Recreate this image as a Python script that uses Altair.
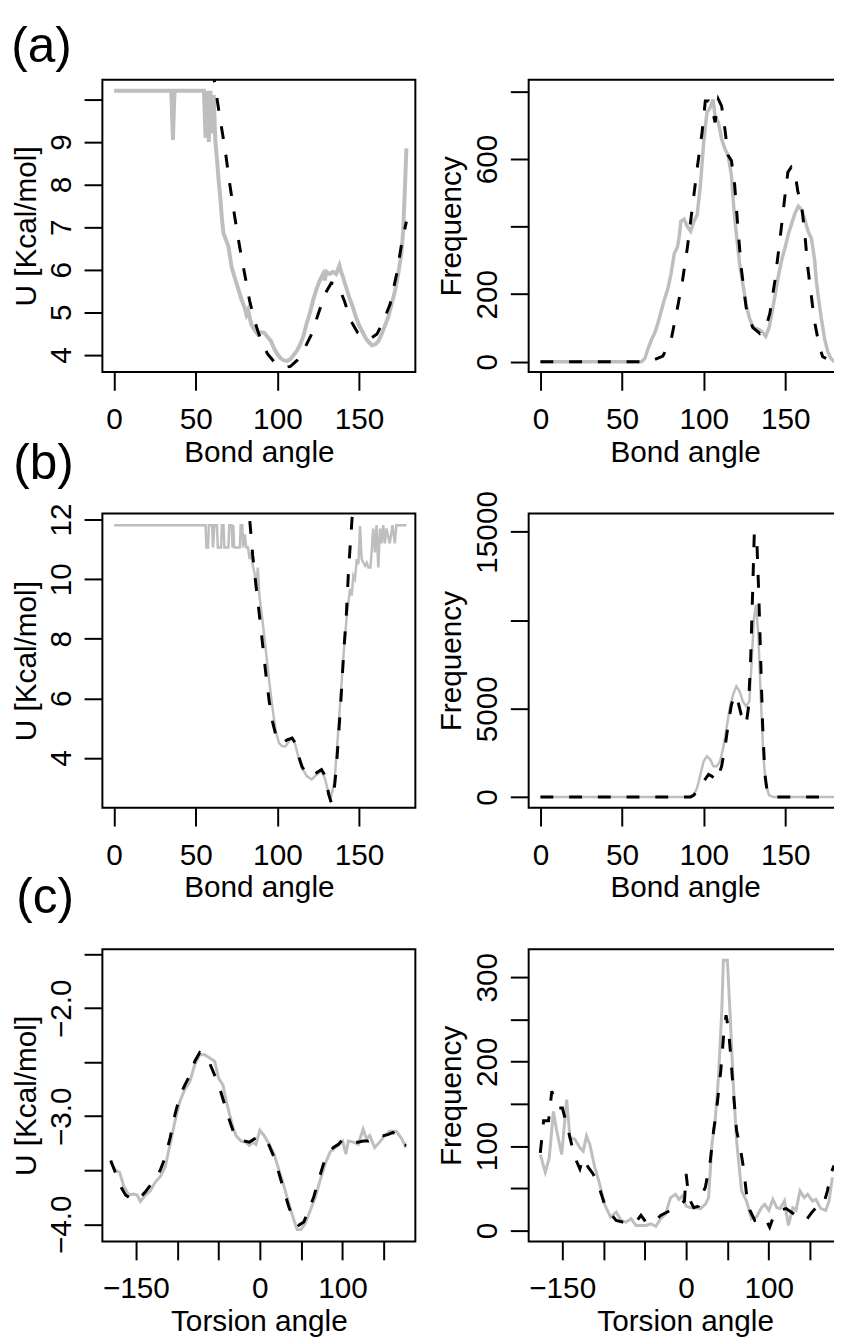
import altair as alt
import pandas as pd

FONT = "Liberation Sans"
GRAY = "#bebebe"
FS = 30

# ---------------- data ----------------
panel_labels = ["(a)", "(b)", "(c)"]

bond_ticks = [0, 50, 100, 150]
torsion_ticks = [-150, -100, -50, 0, 50, 100, 150]
torsion_shown = [-150, 0, 100]

# (a) bond angle: potential (left) and frequency (right)
a_u_gray = [(0, 10.2), (35, 10.2), (36, 9.05), (37, 10.2), (55, 10.2), (56, 9.1), (57, 10.2), (58, 9.0),
            (59, 10.2), (60, 9.2), (61, 10.1), (62, 9.0), (63, 8.6), (64, 8.1), (65, 7.7), (66, 7.2),
            (67, 6.85), (68, 6.75), (70, 6.55), (72, 6.05), (74, 5.8), (76, 5.55), (78, 5.3), (80, 5.1),
            (81, 4.95), (82, 5.05), (84, 4.72), (86, 4.58), (88, 4.48), (90, 4.53), (92, 4.52), (94, 4.42),
            (96, 4.33), (98, 4.15), (100, 4.02), (102, 3.92), (104, 3.87), (106, 3.86), (108, 3.9),
            (110, 4.0), (112, 4.1), (114, 4.25), (116, 4.45), (118, 4.75), (120, 5.0), (122, 5.3),
            (124, 5.55), (126, 5.75), (128, 5.9), (129, 5.75), (130, 5.95), (132, 5.9), (134, 5.95),
            (136, 5.9), (138, 6.1), (139, 5.95), (140, 5.85), (142, 5.6), (144, 5.35), (146, 5.15),
            (148, 4.9), (150, 4.7), (152, 4.55), (154, 4.4), (156, 4.3), (158, 4.22), (160, 4.25),
            (162, 4.33), (164, 4.5), (166, 4.7), (168, 4.9), (170, 5.2), (172, 5.5), (174, 5.9),
            (176, 6.4), (177, 6.9), (178, 7.8), (179, 8.85)]
a_u_dash = [(60.3, 10.7), (61.8, 10.32), (64.9, 9.54), (67.9, 8.84), (70.9, 7.99), (74, 7.21), (77, 6.51),
            (80, 5.89), (83, 5.27), (86, 4.8), (90, 4.33), (94, 4.02), (99, 3.79), (104, 3.71), (108, 3.73),
            (112, 3.87), (116, 4.1), (121, 4.49), (125, 4.96), (129, 5.42), (133, 5.69), (137, 5.65),
            (141, 5.27), (145, 4.8), (149, 4.53), (153, 4.41), (157, 4.38), (161, 4.49), (165, 4.8),
            (169, 5.19), (173, 5.89), (176, 6.59), (179, 7.13)]
a_f_gray = [(0, 0), (62, 0), (64, 10), (66, 40), (68, 65), (70, 85), (72, 115), (74, 150), (76, 185),
            (78, 215), (80, 260), (82, 320), (84, 340), (85, 370), (86, 415), (88, 422), (90, 400),
            (92, 386), (94, 415), (96, 434), (98, 522), (100, 649), (102, 737), (104, 752), (105.7, 776),
            (107, 727), (109, 708), (111, 659), (113, 630), (115, 610), (117, 551), (118.5, 454),
            (120, 380), (122, 290), (124, 230), (126, 170), (128, 130), (130, 105), (132, 98), (134, 95),
            (136, 88), (138, 75), (140, 100), (142, 150), (144, 205), (146, 260), (148, 305), (150, 340),
            (152, 380), (154, 410), (156, 440), (158, 460), (160, 450), (162, 420), (164, 385), (166, 365),
            (168, 300), (169, 240), (170, 200), (172, 130), (174, 70), (176, 30), (178, 10), (180, 0)]
a_f_dash = [(0, 0), (62, 0), (65, 3), (70, 7), (75, 17), (80, 63), (84, 161), (87, 239), (90, 337),
            (93, 454), (96, 571), (99, 678), (101, 771), (103, 771), (105, 752), (107, 708), (109, 776),
            (111, 756), (113, 688), (115, 610), (117, 595), (119, 522), (121, 395), (123, 278), (126, 161),
            (130, 102), (134.5, 83), (137.5, 93), (140.5, 142), (143.6, 239), (146.6, 356), (149.6, 483),
            (151.6, 561), (153.7, 576), (155.7, 566), (157.7, 503), (159.7, 473), (161.8, 386),
            (163.8, 278), (165.8, 200), (167.8, 122), (170.9, 44), (172.9, 15), (175, 10)]

# (b) bond angle
b_u_gray = [(0, 11.81), (56, 11.81), (56.5, 11.06), (57.5, 11.06), (58, 11.81), (60, 11.81), (60.5, 11.06),
            (61.5, 11.81), (63, 11.81), (63.5, 11.06), (65.5, 11.06), (66, 11.81), (67, 11.81), (67.5, 11.06),
            (70, 11.06), (70.5, 11.81), (72, 11.81), (72.5, 11.06), (73, 11.81), (73.5, 11.06), (77, 11.06),
            (77.5, 11.81), (78.5, 11.81), (79, 11.06), (80, 11.5), (81, 11.06), (82, 11.06), (83, 10.67),
            (84, 10.9), (85, 10.44), (86, 10.2), (87, 9.67), (88, 10.39), (89, 9.44), (91, 8.56), (93, 7.56),
            (95, 6.56), (97, 5.67), (99, 4.89), (101, 4.5), (103, 4.39), (105, 4.39), (107, 4.56),
            (109, 4.67), (111, 4.44), (113, 4.0), (115, 3.67), (118, 3.39), (121, 3.28), (124, 3.44),
            (127, 3.56), (129, 3.33), (131, 2.89), (133, 2.72), (135, 3.22), (136.5, 4.33), (138.5, 5.89),
            (140.5, 7.44), (142.5, 8.78), (144.5, 9.67), (145.5, 9.45), (146.5, 10.11), (147.5, 10.0),
            (148.6, 10.67), (149.6, 10.5), (150.6, 11.78), (151.6, 10.67), (152.7, 10.55), (153.7, 10.45),
            (154.7, 10.55), (155.7, 10.39), (157, 10.39), (158.7, 11.7), (159.7, 10.9), (160.7, 11.81),
            (161.8, 10.39), (162.8, 11.7), (163.8, 11.2), (164.8, 11.81), (165.8, 11.2), (166.8, 11.7),
            (168.8, 11.2), (170.5, 11.81), (171.9, 11.2), (172.9, 11.81), (179, 11.81)]
b_u_dash = [(83.1, 11.95), (84.9, 10.78), (86.9, 9.78), (89, 8.78), (91, 7.78), (93, 6.78), (95, 5.89),
            (97, 5.22), (99, 4.78), (101, 4.56), (103, 4.5), (106, 4.61), (109, 4.67), (111, 4.5),
            (113, 4.06), (115, 3.72), (118, 3.44), (121, 3.39), (124, 3.5), (127, 3.61), (129.4, 3.39),
            (131.4, 2.78), (133, 2.5), (134.5, 2.78), (136.1, 3.67), (137.5, 4.78), (139.1, 6.11),
            (140.5, 7.44), (142.2, 8.78), (143.6, 10.33), (145, 11.44), (145.8, 12.1)]
b_f_gray = [(0, 0), (90, 0), (92, 40), (94, 150), (96, 526), (98, 1278), (100, 2030), (102, 2312),
            (104, 2124), (106, 1748), (108, 1748), (110, 2030), (112, 2782), (114, 3910), (116, 5038),
            (118, 5790), (120, 6260), (122, 5978), (124, 5414), (126, 5132), (128, 5414), (129.4, 7670),
            (130.8, 10114), (132, 10866), (133.5, 9174), (134.9, 5790), (136.5, 2406), (138.1, 714),
            (140, 113), (142.5, 0), (180, 0)]
b_f_dash = [(0, 0), (92, 0), (94, 113), (96, 376), (99, 752), (103, 1278), (105, 1184), (108, 902),
            (111, 1748), (113, 2782), (115, 4098), (117, 5226), (119, 5790), (121, 5414), (123, 4662),
            (126, 4098), (127.4, 5038), (128.8, 7858), (130, 11618), (131, 14908), (132.4, 14908),
            (133.7, 11618), (134.9, 7858), (136.1, 4098), (137.5, 1278), (138.9, 338), (140.9, 38),
            (143, 0), (175, 0)]

# (c) torsion angle
c_u_gray = [(-180.5, -3.43), (-174.5, -3.5), (-169.7, -3.52), (-164.6, -3.65), (-158.6, -3.73),
            (-152.6, -3.72), (-148.6, -3.73), (-144.6, -3.79), (-138.6, -3.73), (-132.6, -3.69),
            (-126.6, -3.61), (-120.6, -3.56), (-114.6, -3.47), (-108.6, -3.26), (-102.6, -3.04),
            (-96.7, -2.86), (-90.7, -2.75), (-84.7, -2.68), (-78.7, -2.52), (-72.7, -2.43), (-66.7, -2.43),
            (-60.7, -2.46), (-54.7, -2.49), (-49.9, -2.65), (-44.7, -2.71), (-40.7, -2.86), (-36.7, -2.98),
            (-32.7, -3.10), (-28.8, -3.18), (-22.8, -3.23), (-16.8, -3.24), (-12.8, -3.27), (-8.8, -3.24),
            (-4.8, -3.26), (0, -3.13), (5.2, -3.18), (11.2, -3.26), (17.2, -3.35), (23.2, -3.5),
            (29.2, -3.65), (35.1, -3.81), (41.1, -3.96), (45.1, -4.05), (49.9, -4.05), (55.1, -3.99),
            (61.1, -3.87), (67.1, -3.75), (73.1, -3.59), (79.1, -3.44), (85.1, -3.33), (91.1, -3.29),
            (95.1, -3.27), (100.2, -3.23), (104.2, -3.35), (107, -3.23), (113, -3.24), (119, -3.26),
            (125, -3.12), (129, -3.21), (133, -3.18), (139, -3.29), (145, -3.24), (151, -3.18),
            (157, -3.14), (165, -3.14), (171, -3.2), (177, -3.29)]
c_u_dash = [(-180.5, -3.41), (-174.5, -3.53), (-168.5, -3.65), (-162.6, -3.73), (-156.6, -3.76),
            (-150.6, -3.78), (-144.6, -3.75), (-138.6, -3.70), (-132.6, -3.64), (-126.6, -3.58),
            (-120.6, -3.5), (-114.6, -3.38), (-108.6, -3.2), (-102.6, -2.98), (-96.7, -2.81),
            (-90.7, -2.71), (-84.7, -2.62), (-78.7, -2.49), (-72.7, -2.41), (-66.7, -2.43), (-60.7, -2.51),
            (-54.7, -2.62), (-48.7, -2.74), (-42.7, -2.89), (-36.7, -3.04), (-30.8, -3.17), (-24.8, -3.21),
            (-18.8, -3.23), (-12.8, -3.24), (-6.8, -3.21), (0, -3.19), (5.2, -3.21), (11.2, -3.27),
            (17.2, -3.38), (23.2, -3.53), (29.2, -3.69), (35.1, -3.84), (41.1, -3.96), (47.1, -4.01),
            (53.1, -3.98), (59.1, -3.87), (65.1, -3.75), (71.1, -3.59), (77.1, -3.44), (83.1, -3.33),
            (89.1, -3.29), (95.1, -3.26), (101.1, -3.21), (107, -3.22), (113, -3.24), (119, -3.24),
            (125, -3.23), (131, -3.23), (137, -3.21), (143, -3.17), (149, -3.18), (155, -3.17),
            (161, -3.15), (167, -3.18), (173, -3.26), (177, -3.27)]
c_f_gray = [(-176.5, 90), (-170.5, 69), (-165.7, 86), (-160.6, 141), (-156.6, 118), (-150.6, 90),
            (-144.6, 155), (-140.6, 110), (-134.6, 108), (-128.6, 98), (-124.6, 94), (-120.6, 112),
            (-116.6, 102), (-110.6, 75), (-104.6, 55), (-98.7, 31), (-91.5, 16), (-84.7, 22), (-78.7, 12),
            (-72.7, 10), (-66.7, 14), (-60.7, 6), (-54.7, 6), (-48.7, 6), (-42.7, 8), (-36.7, 5),
            (-30.8, 14), (-24.8, 20), (-18.8, 39), (-12.8, 43), (-8.8, 37), (-4.8, 41), (0, 29), (5.2, 27),
            (11.2, 27), (17.2, 26), (23.2, 31), (27.2, 39), (31.2, 102), (35.1, 130), (39.1, 181),
            (43.1, 259), (45.1, 320), (49.9, 320), (53.1, 259), (57.1, 173), (61.1, 106), (67.1, 47),
            (73.1, 35), (79.1, 14), (85.1, 16), (91.1, 27), (95.1, 31), (100.2, 24), (105, 37), (109.8, 27),
            (113.8, 26), (119, 35), (123.8, 6), (129, 27), (133, 24), (137.8, 47), (143, 39), (147, 43),
            (153, 35), (157, 37), (163, 26), (169, 24), (173, 35), (177, 63)]
c_f_dash = [(-176.5, 92), (-172.5, 130), (-166.5, 130), (-162.6, 165), (-158.6, 151), (-154.6, 145),
            (-149.8, 145), (-144.6, 126), (-138.6, 102), (-132.6, 82), (-128.6, 73), (-124.6, 86),
            (-118.6, 75), (-112.6, 67), (-106.6, 55), (-98.7, 31), (-91.5, 20), (-84.7, 12), (-76.7, 10),
            (-68.7, 9), (-60.7, 10), (-54.7, 18), (-48.7, 10), (-42.7, 8), (-36.7, 12), (-30.8, 18),
            (-22.8, 22), (-14.8, 26), (-6.8, 31), (-2, 35), (0, 67), (3.2, 39), (9.2, 27), (15.2, 29),
            (19.2, 43), (23.2, 51), (29.2, 82), (33.2, 118), (37.1, 145), (41.9, 189), (45.1, 228),
            (48.3, 255), (51.1, 240), (53.9, 208), (57.1, 165), (61.1, 118), (65.9, 96), (69.9, 71),
            (73.1, 43), (77.1, 24), (83.1, 12), (89.1, 14), (95.1, 16), (101.1, 4), (107, 20), (113, 24),
            (121, 26), (127, 22), (133, 18), (139, 16), (145, 12), (151, 20), (157, 27), (163, 27),
            (167, 33), (171, 47), (175, 67), (179, 77)]


# ---------------- helpers ----------------
def show_expr(shown):
    vals = ",".join(str(v) for v in shown)
    return "indexof([" + vals + "], datum.value) >= 0 ? datum.label : ''"


def panel(gray, dash, xdom, ydom, xvals, xshow, xtitle, yvals, yshow, ytitle, h, gw, ytx,
          yfmt="d", label=None, lpos=None):
    xaxis = alt.Axis(values=xvals, labelExpr=show_expr(xshow), title=xtitle, grid=False, domain=False,
                     format="d", tickSize=18.5, tickWidth=2, tickColor="black",
                     labelFont=FONT, labelFontSize=FS, labelColor="black",
                     labelBaseline="alphabetic", labelAlign="center", labelPadding=38.5,
                     labelOverlap=False, labelFlush=False,
                     titleFont=FONT, titleFontSize=FS, titleFontWeight="normal", titleColor="black",
                     titleBaseline="alphabetic", titleY=90)
    yaxis = alt.Axis(values=yvals, labelExpr=show_expr(yshow), title=ytitle, grid=False, domain=False,
                     format=yfmt, tickSize=18.5, tickWidth=2, tickColor="black",
                     labelFont=FONT, labelFontSize=FS, labelColor="black", labelAngle=270,
                     labelBaseline="alphabetic", labelAlign="center", labelPadding=13.5,
                     labelOverlap=False, labelFlush=False,
                     titleFont=FONT, titleFontSize=FS, titleFontWeight="normal", titleColor="black",
                     titleBaseline="alphabetic", titleAlign="center", titleX=ytx)
    xenc = alt.X("x:Q", scale=alt.Scale(domain=xdom, nice=False, zero=False), axis=xaxis)
    yenc = alt.Y("y:Q", scale=alt.Scale(domain=ydom, nice=False, zero=False), axis=yaxis)
    g = alt.Chart(pd.DataFrame(gray, columns=["x", "y"])).mark_line(
        color=GRAY, strokeWidth=gw, clip=True).encode(x=xenc, y=yenc)
    d = alt.Chart(pd.DataFrame(dash, columns=["x", "y"])).mark_line(
        color="black", strokeWidth=3, strokeDash=[13, 16], clip=True).encode(x=xenc, y=yenc)
    layers = [g, d]
    if label:
        t = alt.Chart(pd.DataFrame({"t": [label]})).mark_text(
            font=FONT, fontSize=50, align="left", baseline="alphabetic", color="black"
        ).encode(text="t:N", x=alt.value(lpos[0]), y=alt.value(lpos[1]))
        layers.append(t)
    return alt.layer(*layers).properties(width=316, height=h)


BOND_DOM = [-7.2, 184.5]
TOR_DOM = [-190.6, 188.2]

pa_l = panel(a_u_gray, a_u_dash, BOND_DOM, [3.6, 10.46], bond_ticks, bond_ticks, "Bond angle",
             [4, 5, 6, 7, 8, 9, 10], [4, 5, 6, 7, 8, 9], "U [Kcal/mol]", 295, 4, -68,
             label=panel_labels[0], lpos=(-92, -18))
pa_r = panel(a_f_gray, a_f_dash, BOND_DOM, [-30, 834], bond_ticks, bond_ticks, "Bond angle",
             [0, 200, 400, 600, 800], [0, 200, 600], "Frequency", 295, 3.5, -69)
pb_l = panel(b_u_gray, b_u_dash, BOND_DOM, [2.33, 12.2], bond_ticks, bond_ticks, "Bond angle",
             [4, 6, 8, 10, 12], [4, 6, 8, 10, 12], "U [Kcal/mol]", 297, 2.5, -68,
             label=panel_labels[1], lpos=(-90, -35.3))
pb_r = panel(b_f_gray, b_f_dash, BOND_DOM, [-602, 16036], bond_ticks, bond_ticks, "Bond angle",
             [0, 5000, 10000, 15000], [0, 5000, 15000], "Frequency", 297, 2.5, -69)
pc_l = panel(c_u_gray, c_u_dash, TOR_DOM, [-4.16, -1.455], torsion_ticks, torsion_shown, "Torsion angle",
             [-4, -3.5, -3, -2.5, -2, -1.5], [-4, -3, -2], "U [Kcal/mol]", 295, 3, -68,
             yfmt=".1f", label=panel_labels[2], lpos=(-87, -37))
pc_r = panel(c_f_gray, c_f_dash, TOR_DOM, [-13, 333], torsion_ticks, torsion_shown, "Torsion angle",
             [0, 50, 100, 150, 200, 250, 300], [0, 100, 200, 300], "Frequency", 295, 3, -69)

chart = alt.concat(
    pa_l, pa_r, pb_l, pb_r, pc_l, pc_r,
    columns=2,
    spacing=alt.RowColnumber(row=143, column=114.4),
    bounds="flush",
).properties(
    autosize=alt.AutoSizeParams(type="none"),
    padding={"left": 95.3, "top": 66, "right": 738.7, "bottom": 1269},
).configure_view(stroke="black", strokeWidth=2)

chart.save("out.html", embed_options={"renderer": "svg", "actions": False})
